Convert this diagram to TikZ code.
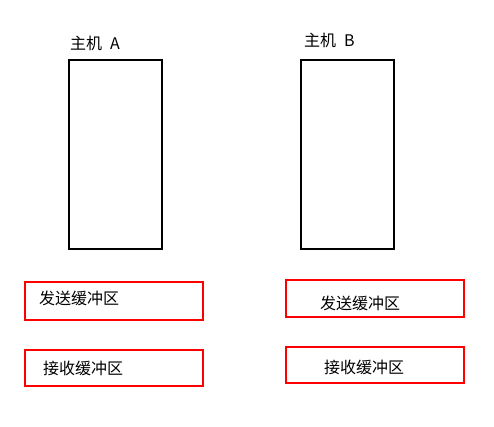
\documentclass[tikz,border=0pt]{standalone}
\usepackage{fontspec}
\setmainfont{Noto Sans CJK SC}
\usetikzlibrary{positioning}
\tikzset{
  host/.style={draw=black,line width=1.1pt,minimum width=93pt,minimum height=189pt,inner sep=0pt},
  buffer/.style={draw=red,line width=1.1pt,minimum width=178pt,inner sep=0pt},
  lbl/.style={anchor=west,inner sep=0pt,font=\fontsize{16}{19}\selectfont}
}

\begin{document}
\begin{tikzpicture}[x=1pt,y=-1pt]
  \useasboundingbox (0,0) rectangle (494,426);
  % hosts
  \node[host] (hostA) at (115.5,154.5) {};
  \node[host] (hostB) at (347.5,154.5) {};
  \node[lbl] (nameA) at (70,43) {主机\hspace{0.5em}A};
  \node[lbl] (nameB) at (304,40) {主机\hspace{0.5em}B};
  % buffers of A
  \node[buffer,minimum height=38pt] (sendA) at (114,301) {};
  \node[buffer,minimum height=36pt] (recvA) at (114,368) {};
  \node[lbl] (sendAtext) at (39,298) {发送缓冲区};
  \node[lbl] (recvAtext) at (43,368) {接收缓冲区};
  % buffers of B
  \node[buffer,minimum height=37pt] (sendB) at (375,298.5) {};
  \node[buffer,minimum height=36pt] (recvB) at (375,365) {};
  \node[lbl] (sendBtext) at (320,303) {发送缓冲区};
  \node[lbl] (recvBtext) at (324,367) {接收缓冲区};
\end{tikzpicture}
\end{document}
